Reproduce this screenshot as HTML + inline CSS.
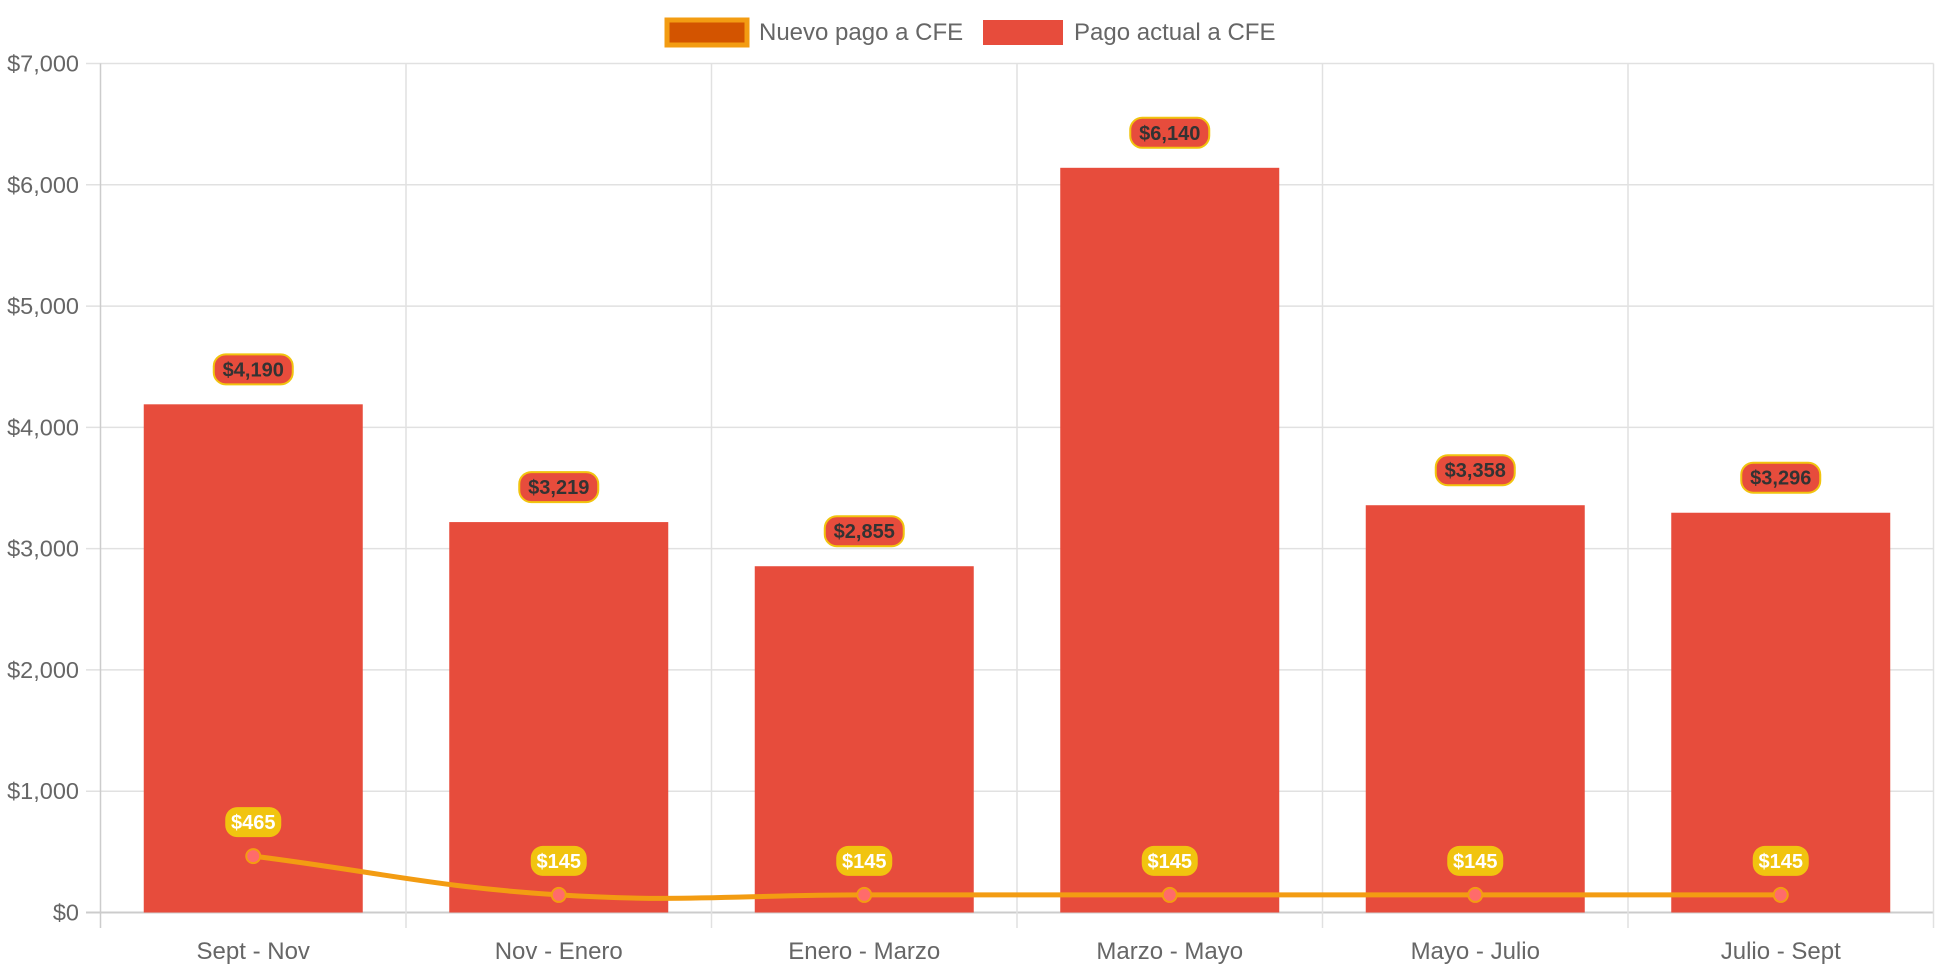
<!DOCTYPE html>
<html><head><meta charset="utf-8"><style>
html,body{margin:0;padding:0;background:#fff;}
svg{display:block;font-family:"Liberation Sans",Arial,sans-serif;}
</style></head><body>
<svg id="chart" width="1942" height="970" xmlns="http://www.w3.org/2000/svg">
<g id="legend">
  <g>
    <rect x="667" y="20" width="80" height="25" fill="#d35400" stroke="#f39c12" stroke-width="5"/>
    <text x="759" y="40" font-size="24" fill="#666">Nuevo pago a CFE</text>
  </g>
  <g>
    <rect x="983" y="20" width="80" height="25" fill="#e74c3c"/>
    <text x="1074" y="40" font-size="24" fill="#666">Pago actual a CFE</text>
  </g>
</g>
<g id="grid"></g>
<g id="yaxis"></g>
<g id="xaxis"></g>
<g id="bars"></g>
<g id="line"></g>
<g id="labels"></g>
</svg>
<script>
const categories = ["Sept - Nov","Nov - Enero","Enero - Marzo","Marzo - Mayo","Mayo - Julio","Julio - Sept"];
const actualValues = [4190,3219,2855,6140,3358,3296];
const newValues = [465,145,145,145,145,145];
const yTicks = [0,1000,2000,3000,4000,5000,6000,7000];

const NS="http://www.w3.org/2000/svg";
const L=100.5,R=1933.5,T=63.5,B=912.5,yMax=7000;
const band=(R-L)/categories.length;
const x=i=>L+band*(i+0.5);
const y=v=>B-(v/yMax)*(B-T);
const fmt=v=>"$"+v.toLocaleString("en-US");
function mk(tag,attrs,parent,text){const e=document.createElementNS(NS,tag);for(const k in attrs)e.setAttribute(k,attrs[k]);if(text!==undefined)e.textContent=text;parent.appendChild(e);return e;}
const grid=document.getElementById('grid'),ya=document.getElementById('yaxis'),xa=document.getElementById('xaxis');
yTicks.forEach(t=>{
  const ln=mk('line',{x1:86,x2:R,y1:y(t),y2:y(t),stroke:t===0?'#ccc':'#e1e1e1','stroke-width':t===0?2:1.5},grid);
  
  
  const tx=mk('text',{x:79,y:y(t)+8,'text-anchor':'end','font-size':23.5,fill:'#666'},ya,fmt(t));
  
  
});
for(let i=0;i<=categories.length;i++){
  const gx=L+band*i;
  const ln=mk('line',{x1:gx,x2:gx,y1:T,y2:928,stroke:i===0?'#ccc':'#e1e1e1','stroke-width':1.5},grid);
  
  
}
categories.forEach((c,i)=>{
  const tx=mk('text',{x:x(i),y:959,'text-anchor':'middle','font-size':24,fill:'#666'},xa,c);
  
  
});
const bars=document.getElementById('bars'),lab=document.getElementById('labels'),lg=document.getElementById('line');
const bw=219;
function pill(cx,cy,text,fill,stroke,color){
  const w=text.length*11.5+10;
  const r=mk('rect',{x:cx-w/2,y:cy-15,width:w,height:30,rx:12,fill:fill,stroke:stroke,'stroke-width':stroke==='none'?0:2},lab);
  
  
  const t=mk('text',{x:cx,y:cy+7,'text-anchor':'middle','font-size':20,'font-weight':'bold',fill:color},lab,text);
  
  
}
actualValues.forEach((v,i)=>{
  const b=mk('rect',{x:x(i)-bw/2,y:y(v),width:bw,height:B-y(v),fill:'#e74c3c'},bars);
  
  
  pill(x(i),y(v)-35,fmt(v),'#e74c3c','#f1c40f','#333');
});
const pts=newValues.map((v,i)=>[x(i),y(v)]);
function slope(i){
  const a=pts[Math.max(0,i-1)],b=pts[Math.min(pts.length-1,i+1)];
  return (b[1]-a[1])/(b[0]-a[0]);
}
let d="M"+pts[0][0]+","+pts[0][1];
for(let i=0;i<pts.length-1;i++){
  const p0=pts[i],p1=pts[i+1],dx=(p1[0]-p0[0])*0.4;
  const s0=slope(i),s1=slope(i+1);
  d+=` C${p0[0]+dx},${p0[1]+s0*dx} ${p1[0]-dx},${p1[1]-s1*dx} ${p1[0]},${p1[1]}`;
}
const path=mk('path',{d:d,fill:'none',stroke:'#f39c12','stroke-width':5},lg);


newValues.forEach((v,i)=>{
  const c=mk('circle',{cx:x(i),cy:y(v),r:7,fill:'#ff6b6b',stroke:'#f39c12','stroke-width':2},lg);
  
  
  pill(x(i),y(v)-34,fmt(v),'#f1c40f','none','#fff');
});
</script>
</body></html>
